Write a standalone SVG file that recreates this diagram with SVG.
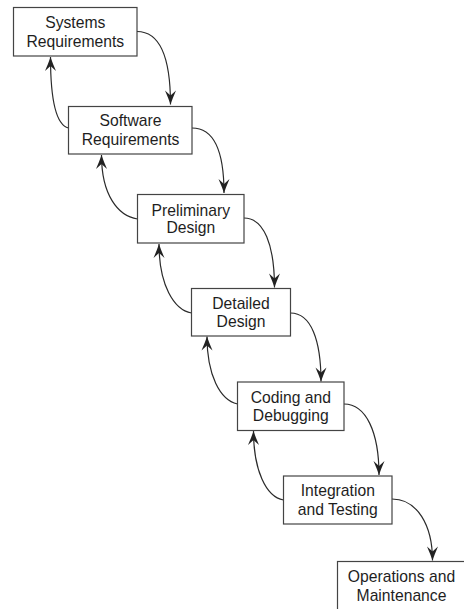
<svg xmlns="http://www.w3.org/2000/svg" width="464" height="609" viewBox="0 0 464 609">
<defs>
<marker id="ah" markerUnits="userSpaceOnUse" viewBox="-15 -7 16 14" refX="0" refY="0" markerWidth="16" markerHeight="14" orient="auto">
<path d="M0,0 Q-6,-2 -14,-5.5 L-9,0 L-14,5.5 Q-6,2 0,0 Z" fill="#222"/>
</marker>
<style>
.box{fill:#fff;stroke:#444;stroke-width:1.2}
.lbl{font-family:"Liberation Sans",Arial,sans-serif;font-size:15.7px;fill:#1e1e1e;text-anchor:middle}
.c{fill:none;stroke:#2a2a2a;stroke-width:1.2;marker-end:url(#ah)}
</style>
</defs>
<rect width="464" height="609" fill="#fff"/>
<g id="connectors">
<path class="c" d="M137,31.5 C160,31.5 170.5,57 170.5,104.5"/>
<path class="c" d="M192,128 C214,128 224,152 224,193"/>
<path class="c" d="M244,218 C264,218 274.5,245 274.5,287.5"/>
<path class="c" d="M290.5,313 C311,313 321,340 321,381.5"/>
<path class="c" d="M344,404 C366,404 379,432 379,475"/>
<path class="c" d="M392,499 C417,499 432.5,525 432.5,560.5"/>
<path class="c" d="M68.5,128 C56,125 50.5,100 50.5,57"/>
<path class="c" d="M137.5,219 C118,216 101.5,195 101.5,155"/>
<path class="c" d="M191.5,313 C174,310 159,285 159,244"/>
<path class="c" d="M237.5,404 C220,400 207,375 207,336.5"/>
<path class="c" d="M283.5,500 C266,497 253.5,470 253.5,431"/>
</g>
<g id="systems-requirements">
<rect class="box" x="13.5" y="7.5" width="123.5" height="48.5"/>
<text class="lbl" x="75.3" y="28">Systems</text>
<text class="lbl" x="75.3" y="46.5">Requirements</text>
</g>
<g id="software-requirements">
<rect class="box" x="68.5" y="106.5" width="123.5" height="47.5"/>
<text class="lbl" x="130.5" y="126">Software</text>
<text class="lbl" x="130.5" y="144.5">Requirements</text>
</g>
<g id="preliminary-design">
<rect class="box" x="137.5" y="194.5" width="106.5" height="48.5"/>
<text class="lbl" x="190.8" y="215.5">Preliminary</text>
<text class="lbl" x="190.8" y="233">Design</text>
</g>
<g id="detailed-design">
<rect class="box" x="191.5" y="288.5" width="99" height="47.5"/>
<text class="lbl" x="241" y="308.5">Detailed</text>
<text class="lbl" x="241" y="327">Design</text>
</g>
<g id="coding-and-debugging">
<rect class="box" x="237.5" y="382" width="106.5" height="48.5"/>
<text class="lbl" x="290.8" y="402.5">Coding and</text>
<text class="lbl" x="290.8" y="421">Debugging</text>
</g>
<g id="integration-and-testing">
<rect class="box" x="283.5" y="476" width="108.5" height="48"/>
<text class="lbl" x="337.8" y="495.5">Integration</text>
<text class="lbl" x="337.8" y="514.5">and Testing</text>
</g>
<g id="operations-and-maintenance">
<rect class="box" x="337.5" y="561.5" width="140" height="60"/>
<text class="lbl" x="401.5" y="582">Operations and</text>
<text class="lbl" x="401.5" y="600.5">Maintenance</text>
</g>
</svg>
